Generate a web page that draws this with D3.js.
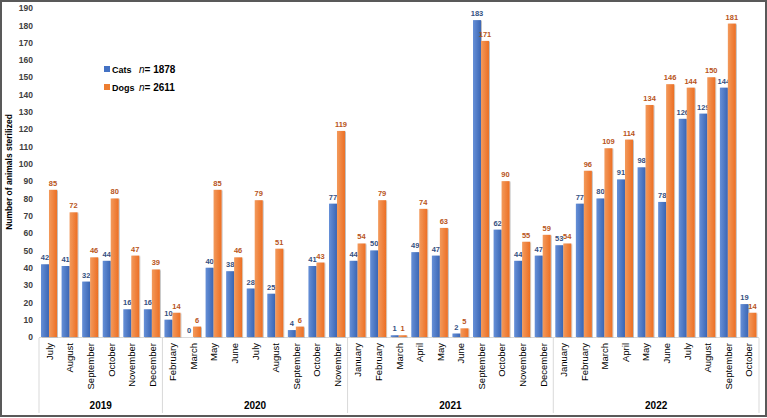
<!DOCTYPE html>
<html><head><meta charset="utf-8">
<script src="https://cdn.jsdelivr.net/npm/d3@7"></script>
<style>body{margin:0;background:#fff;}svg{display:block;font-family:"Liberation Sans",Arial,sans-serif;}</style>
</head><body><svg id="c" width="767" height="418"></svg>
<script>
const years = ["2019","2020","2021","2022"];
const months = [
 ["July","August","September","October","November","December"],
 ["February","March","May","June","July","August","September","October","November"],
 ["January","February","March","April","May","June","September","October","November","December"],
 ["January","February","March","April","May","June","July","August","September","October"]
];
const cats = [42,41,32,44,16,16, 10,0,40,38,28,25,4,41,77, 44,50,1,49,47,2,183,62,44,47, 53,77,80,91,98,78,126,129,144,19];
const dogs = [85,72,46,80,47,39, 14,6,85,46,79,51,6,43,119, 54,79,1,74,63,5,171,90,55,59, 54,96,109,114,134,146,144,150,181,14];
const yTicks = d3.range(0,191,10);
const seriesNames = ["Cats","Dogs"];
const seriesN = [1878, 2611];

const rows = [];
months.forEach((ms,yi)=>ms.forEach(m=>rows.push({year:years[yi],month:m,key:years[yi]+"-"+m})));
rows.forEach((r,i)=>{r.cats=cats[i];r.dogs=dogs[i];});

const svg = d3.select("#c");
const W=767,H=418;
svg.append("rect").attr("x",1).attr("y",1).attr("width",W-2).attr("height",H-3).attr("fill","#fff").attr("stroke","#595959").attr("stroke-width",2);

const defs = svg.append("defs");
function grad(id,c1,c2){
  const g=defs.append("linearGradient").attr("id",id).attr("x1","0").attr("x2","1").attr("y1","0").attr("y2","0");
  g.append("stop").attr("offset","0").attr("stop-color",c1);
  g.append("stop").attr("offset","1").attr("stop-color",c2);
}
grad("gc","#6690d8","#3a65b3");
grad("gd","#f39a5c","#ec6f24");
const f=defs.append("filter").attr("id","sh").attr("x","-30%").attr("y","-10%").attr("width","160%").attr("height","120%");
f.append("feDropShadow").attr("dx",1).attr("dy",0.5).attr("stdDeviation",0.7).attr("flood-color","#000").attr("flood-opacity",0.25);

const x0 = d3.scaleBand().domain(rows.map(r=>r.key)).range([39,759]).paddingInner(0).paddingOuter(0);
const x1 = d3.scaleBand().domain(["cats","dogs"]).range([2,x0.bandwidth()-2.6]).padding(0);
const y = d3.scaleLinear().domain([0,190]).range([337,8]);

// y axis
const ya = svg.append("g").attr("transform","translate(35,0)").call(d3.axisLeft(y).tickValues(yTicks).tickSize(0).tickPadding(2));
ya.select(".domain").remove();
ya.selectAll("text").attr("font-size",8.5).attr("font-weight","bold").attr("fill","#404040").attr("font-family","Liberation Sans, Arial, sans-serif");

svg.append("text").attr("transform","translate(12,172) rotate(-90)").attr("text-anchor","middle")
  .attr("font-size",8.5).attr("font-weight","bold").attr("fill","#000").text("Number of animals sterilized");

// baseline
svg.append("line").attr("x1",39).attr("x2",759).attr("y1",337.5).attr("y2",337.5).attr("stroke","#d9d9d9").attr("stroke-width",1);

// bars
const g = svg.append("g").selectAll("g").data(rows).join("g").attr("transform",d=>`translate(${x0(d.key)},0)`);
[["cats","url(#gc)","#34507f"],["dogs","url(#gd)","#b8541a"]].forEach(([k,fill,lc])=>{
  g.append("rect").attr("x",x1(k)).attr("width",x1.bandwidth()).attr("y",d=>y(d[k])).attr("height",d=>y(0)-y(d[k]))
    .attr("fill",fill).attr("filter","url(#sh)");
  g.append("text").attr("x",x1(k)+x1.bandwidth()/2).attr("y",d=>y(d[k])-4).attr("text-anchor","middle")
    .attr("font-size",7.5).attr("font-weight","bold").attr("fill",lc).text(d=>d[k]);
});

// month labels
svg.append("g").selectAll("text").data(rows).join("text")
  .attr("transform",d=>`translate(${x0(d.key)+x0.bandwidth()/2+3.5},343) rotate(-90)`)
  .attr("text-anchor","end").attr("font-size",9.5).attr("fill","#000").text(d=>d.month);

// year groups
let start=0;
const bounds=[];
months.forEach((ms,yi)=>{bounds.push({year:years[yi],s:start,e:start+ms.length-1});start+=ms.length;});
const sepX = [x0.range()[0]].concat(bounds.map(b=>x0(rows[b.e].key)+x0.bandwidth()));
svg.append("g").selectAll("line").data(sepX).join("line")
  .attr("x1",d=>d).attr("x2",d=>d).attr("y1",338).attr("y2",413).attr("stroke","#d9d9d9").attr("stroke-width",1);
svg.append("g").selectAll("text").data(bounds).join("text")
  .attr("x",b=>(x0(rows[b.s].key)+x0(rows[b.e].key)+x0.bandwidth())/2).attr("y",409)
  .attr("text-anchor","middle").attr("font-size",10).attr("font-weight","bold").attr("fill","#000").text(b=>b.year);

// legend
const lg = svg.append("g").attr("transform","translate(104,66)");
const lcol=["#4472c4","#ed7d31"];
seriesNames.forEach((n,i)=>{
  const it=lg.append("g").attr("transform",`translate(0,${i*18})`);
  it.append("rect").attr("x",0).attr("y",0).attr("width",6).attr("height",6).attr("fill",lcol[i]);
  const t=it.append("text").attr("x",8).attr("y",6.5).attr("font-size",9).attr("font-weight","bold").attr("fill","#000");
  t.append("tspan").text(n);
  t.append("tspan").attr("x",35).attr("font-style","italic").attr("font-weight","normal").attr("font-size",10).text("n");
  t.append("tspan").attr("font-size",10).text("= "+seriesN[i]);
});
</script></body></html>
